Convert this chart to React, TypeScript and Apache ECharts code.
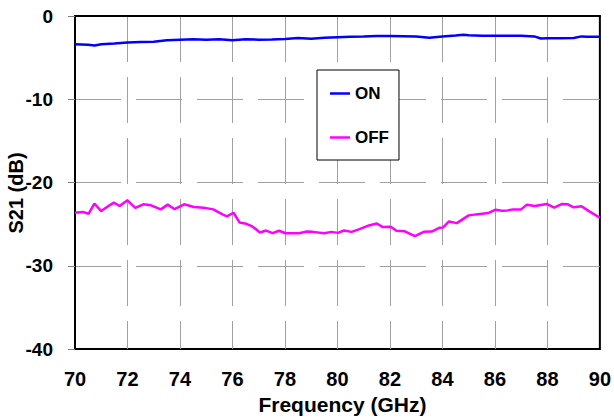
import React, { useEffect, useRef } from "react";
import * as echarts from "echarts";

const onFreq = [70.0, 70.5, 70.75, 71.0, 71.5, 72.0, 72.5, 73.0, 73.5, 74.0, 74.5, 75.0, 75.5, 76.0, 76.5, 77.0, 77.5, 78.0, 78.5, 79.0, 79.5, 80.0, 80.5, 81.0, 81.5, 82.0, 82.5, 83.0, 83.5, 84.0, 84.5, 84.8, 85.0, 85.5, 86.0, 86.5, 87.0, 87.5, 87.75, 88.0, 88.5, 89.0, 89.3, 89.5, 90.0];
const onS21 = [-3.40, -3.45, -3.55, -3.40, -3.30, -3.18, -3.12, -3.08, -2.92, -2.85, -2.80, -2.86, -2.80, -2.90, -2.78, -2.85, -2.82, -2.75, -2.65, -2.72, -2.62, -2.55, -2.48, -2.45, -2.40, -2.40, -2.42, -2.45, -2.62, -2.45, -2.35, -2.25, -2.32, -2.38, -2.38, -2.38, -2.38, -2.45, -2.70, -2.68, -2.66, -2.64, -2.45, -2.48, -2.48];

const offFreq = [70.0, 70.3, 70.52, 70.74, 71.0, 71.26, 71.48, 71.7, 72.0, 72.3, 72.6, 72.9, 73.27, 73.53, 73.79, 74.16, 74.53, 74.9, 75.27, 75.64, 75.79, 76.04, 76.27, 76.53, 76.76, 77.05, 77.28, 77.53, 77.77, 78.03, 78.54, 78.83, 79.06, 79.5, 79.77, 80.02, 80.25, 80.54, 80.84, 81.2, 81.5, 81.73, 82.03, 82.25, 82.55, 82.77, 82.95, 83.29, 83.59, 83.88, 84.03, 84.25, 84.55, 85.0, 85.29, 85.74, 86.03, 86.26, 86.48, 86.7, 87.0, 87.22, 87.52, 87.97, 88.26, 88.56, 88.78, 89.0, 89.3, 89.6, 90.0];
const offS21 = [-23.63, -23.55, -23.75, -22.54, -23.43, -22.86, -22.42, -22.82, -22.14, -23.06, -22.62, -22.74, -23.23, -22.66, -23.19, -22.62, -22.94, -23.02, -23.23, -23.87, -24.07, -23.63, -24.8, -24.96, -25.28, -26.0, -25.77, -26.09, -25.8, -26.09, -26.09, -25.89, -25.93, -26.09, -25.93, -26.05, -25.77, -25.93, -25.6, -25.16, -24.92, -25.36, -25.32, -25.8, -25.85, -26.17, -26.45, -25.93, -25.89, -25.44, -25.4, -24.68, -24.88, -23.95, -23.83, -23.67, -23.27, -23.39, -23.35, -23.23, -23.23, -22.66, -22.82, -22.58, -23.02, -22.58, -22.62, -22.98, -22.86, -23.47, -24.23];

const seriesNames = ["ON", "OFF"];
const xTitle = "Frequency (GHz)";
const yTitle = "S21 (dB)";

const FONT = "'Liberation Sans', Arial, sans-serif";

export default function App() {
  const ref = useRef<HTMLDivElement>(null);
  useEffect(() => {
    if (!ref.current) return;
    const chart = echarts.init(ref.current, null, { renderer: "svg" });
    const onData = onFreq.map((f, i) => [f, onS21[i]]);
    const offData = offFreq.map((f, i) => [f, offS21[i]]);
    const gridLine = { show: true, showMinLine: false, showMaxLine: false, lineStyle: { color: "#a0a0a0", width: 1, type: [46, 15] as any } };
    chart.setOption({
      animation: false,
      backgroundColor: "#ffffff",
      grid: {
        left: 75, top: 16, width: 527, height: 333,
        show: true, borderColor: "#000", borderWidth: 2, backgroundColor: "transparent",
      },
      legend: {
        orient: "vertical",
        left: 317, top: 70,
        data: seriesNames.map((n) => ({ name: n, icon: "rect" })),
        backgroundColor: "#fff",
        borderColor: "#000",
        borderWidth: 1,
        padding: [15, 10, 14, 13],
        itemGap: 27,
        itemWidth: 20,
        itemHeight: 2.5,
        textStyle: { fontFamily: FONT, fontWeight: "bold", fontSize: 17, color: "#000", lineHeight: 14 },
      },
      xAxis: {
        type: "value", min: 70, max: 90, interval: 2,
        name: xTitle, nameLocation: "middle", nameGap: 43,
        nameTextStyle: { fontFamily: FONT, fontWeight: "bold", fontSize: 21, color: "#000", padding: [0, 0, 0, 10] },
        axisLine: { show: true, lineStyle: { color: "#000", width: 2 } },
        axisTick: { show: false },
        axisLabel: { margin: 20, fontFamily: FONT, fontWeight: "bold", fontSize: 20, color: "#000" },
        splitLine: gridLine,
      },
      yAxis: {
        type: "value", min: -40, max: 0, interval: 10,
        axisLine: { show: true, lineStyle: { color: "#000", width: 2 } },
        axisTick: { show: true, inside: false, length: 7, lineStyle: { color: "#808080", width: 1 } },
        axisLabel: { margin: 22, fontFamily: FONT, fontWeight: "bold", fontSize: 19, color: "#000" },
        splitLine: gridLine,
      },
      graphic: [
        {
          type: "text", x: 16, y: 193, rotation: Math.PI / 2,
          style: { text: yTitle, align: "center", verticalAlign: "middle", font: `bold 20px ${FONT}`, fill: "#000" },
        },
      ],
      series: [
        { name: seriesNames[0], type: "line", data: onData, symbol: "none", lineStyle: { color: "#0000ff", width: 2.5 }, itemStyle: { color: "#0000ff" } },
        { name: seriesNames[1], type: "line", data: offData, symbol: "none", lineStyle: { color: "#ff00ff", width: 2.5 }, itemStyle: { color: "#ff00ff" } },
      ],
    });
    return () => chart.dispose();
  }, []);
  return <div ref={ref} style={{ position: "fixed", left: 0, top: 0, width: 614, height: 420 }} />;
}
